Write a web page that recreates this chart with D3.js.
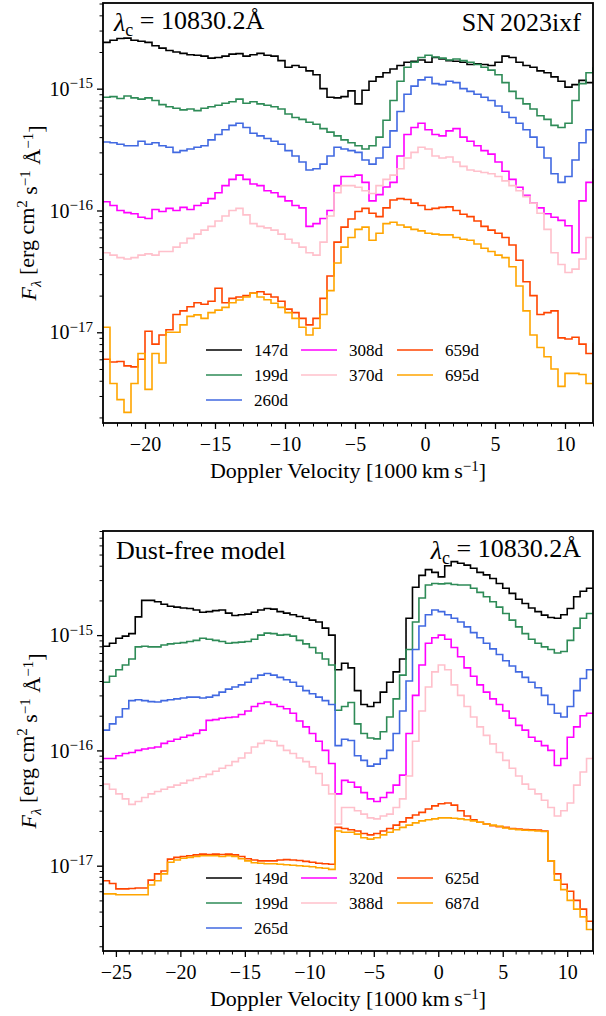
<!DOCTYPE html>
<html>
<head>
<meta charset="utf-8">
<script src="https://cdn.jsdelivr.net/npm/d3@7"></script>
<style>
  body { margin: 0; background: #fff; }
  text { font-family: "Liberation Serif", "DejaVu Serif", serif; fill: #000; }
</style>
</head>
<body>
<svg id="chart" width="606" height="1016"></svg>
<script>
// velocity bins, 1000 km/s (left edge of each bin)
let obsVel = [-23,-22.5,-22,-21.5,-21,-20.5,-20,-19.5,-19,-18.5,-18,-17.5,-17,-16.5,-16,-15.5,-15,-14.5,-14,-13.5,
  -13,-12.5,-12,-11.5,-11,-10.5,-10,-9.5,-9,-8.5,-8,-7.5,-7,-6.5,-6,-5.5,-5,-4.5,-4,-3.5,
  -3,-2.5,-2,-1.5,-1,-0.5,0,0.5,1,1.5,2,2.5,3,3.5,4,4.5,5,5.5,6,6.5,7,7.5,8,8.5,9,9.5,10,10.5,11,11.5,12];
let modVel = [-26,-25.5,-25,-24.5,-24,-23.5,-23,-22.5,-22,-21.5,-21,-20.5,-20,-19.5,-19,-18.5,-18,-17.5,-17,-16.5,
  -16,-15.5,-15,-14.5,-14,-13.5,-13,-12.5,-12,-11.5,-11,-10.5,-10,-9.5,-9,-8.5,-8,-7.5,-7,-6.5,
  -6,-5.5,-5,-4.5,-4,-3.5,-3,-2.5,-2,-1.5,-1,-0.5,0,0.5,1,1.5,2,2.5,3,3.5,4,4.5,5,5.5,6,6.5,7,7.5,8,8.5,9,9.5,10,10.5,11,11.5,12];

// fluxes in units of 1e-17 erg cm^2 s^-1 A^-1
let obs147 = [240,250,258,260,250,245,240,225,215,206,200,195,190,188,185,178,180,185,192,194,
  185,190,195,188,185,170,150,155,150,140,130,100,85,84,86,96,75,97,115,125,
  135,145,155,165,168,172,165,180,175,170,168,165,158,160,158,155,165,185,180,165,155,150,140,135,125,115,103,108,117,112,111];
let obs199 = [85,86,83,87,84,82,84,80,74,71,69,67,68,66,69,71,73,76,78,82,
  76,78,75,73,71,68,62,58,56,53,51,47,44,41,38,36,34,32,34,40,
  55,80,115,150,165,180,188,182,178,172,175,170,165,158,150,142,130,112,95,83,75,68,60,56,50,48,52,80,110,135,150];
let obs260 = [36.5,36,35,34,34,37,35,36,34,33,30,31,32,33,34,38,42,46,50,52,
  48,43,41,39,37,35,31,28,25,21.5,22,24,28,33,32,31,30,26,24,27,
  33,45,65,90,105,118,124,110,108,115,112,100,95,90,85,80,72,64,58,52,46,40,33,27,20,17,19,26,36,46,55];
let obs308 = [11.8,11,10,9.6,9.4,8.8,8.6,10.2,9.8,10.4,10,10.6,10.2,11,11.5,12.5,14,16,18,19.5,
  18,16.5,16,14.5,14,13,12,11,10.5,7.4,7.8,8.6,10,16,19,19,19.5,17,12,13.5,
  15.6,17,28,42,48,52,46,42,41,45,47,40,37,34,31,29,25,21,18,15.5,13.3,11.5,10.5,9.4,8.8,8.3,7.5,4.5,12,17,22];
let obs370 = [4.5,4.3,4.1,4.0,4.1,4.3,4.4,4.3,4.6,4.6,5.0,5.4,5.9,6.4,6.9,7.4,8.2,9,10,10.4,
  9.2,7.8,7.4,7.2,6.9,6.4,5.8,5.4,5.0,4.5,4.3,5.5,9,14,16,16,15.5,14.5,13.8,16,
  18,19.5,22,27,30,33,32,28,27,27.5,25,23,21.5,21,20.5,20,19,17.5,16,14.5,13,11.5,9.5,7,4.5,3.6,3.1,3.3,4.0,6,7.8];
let obs659 = [0.6,0.57,0.575,0.53,0.52,0.6,1.02,0.8,0.95,1.05,1.4,1.5,1.62,1.75,1.7,1.8,2.3,1.75,1.9,1.95,
  2.0,2.1,2.15,2.05,1.95,1.8,1.55,1.45,1.3,1.15,1.3,1.9,2.9,5.5,7.3,8.5,9.8,10.4,9.5,8.9,
  10.5,12.2,12.5,12.3,11.5,11,10.2,10.4,10.6,10.7,10,9.3,8.9,8.2,7.4,6.9,6.5,6.0,5.2,3.9,2.6,2.0,1.4,1.45,1.5,0.9,0.88,0.91,0.8,0.67,0.82];
let obs695 = [1.1,0.38,0.28,0.22,0.38,0.67,0.34,0.67,0.56,1.0,1.0,1.15,1.35,1.39,1.3,1.45,1.52,1.6,1.75,1.84,
  1.95,2.09,1.95,1.85,1.73,1.6,1.45,1.3,1.1,0.95,1.08,1.4,2.2,3.7,5.0,6.0,7.0,7.3,5.7,6.5,
  7.8,8.0,7.6,7.3,7.0,6.8,6.5,6.4,6.3,6.3,6.0,5.8,5.7,5.3,4.9,4.6,4.3,4.1,3.45,2.4,1.5,0.95,0.75,0.63,0.5,0.36,0.46,0.46,0.45,0.38,0.34];

let mod149 = [80,85,94,98,103,144,200,200,195,185,178,175,172,170,165,158,160,163,165,155,
  148,150,152,158,165,170,168,160,155,150,145,140,135,130,115,100,50,57,52,33,
  25,24,26,32,39,48,62,140,260,330,370,350,320,400,434,420,405,380,350,333,310,280,255,230,205,188,172,160,149,142,140,150,170,215,240,255,255];
let mod199 = [39,44,50,55,62,79,80,79,79,82,84,85,86,88,90,94,92,90,88,85,
  86,87,88,92,100,104,103,100,101,98,90,84,78,70,62,55,22.3,24,26,17,
  14,12.8,12.6,14.5,19.5,28,45,75,130,210,272,280,278,281,275,272,272,255,235,215,195,175,154,135,118,103,92,85,79,75,70,72,90,115,140,154,154];
let mod265 = [15,17,19.5,23,27,27.5,27,26.5,26.3,27,27.5,28,28.5,29,29,28.5,29,30,32,34,
  35.5,37,39,42,45,46.5,45,43,41,39,36,33,31,29,27,25,11,12.5,12.2,9,
  8.2,7.3,7.6,8.5,10,14,22,40,75,120,150,165,160,150,140,130,118,105,95,85,76,68,60,54,48,43,39,35,30,25,21,19.5,24,33,42,50,51];
let mod320 = [8.5,8.5,9,9.4,9.6,10,10.3,10.5,10.7,11.5,12,12.5,13,13.5,14,15,18.2,18.5,19,19.3,
  19.5,20.5,22,24,25.5,26.3,25,24,23,21,18,16,14,12,10,7.7,4.2,5.5,5.3,4.8,
  4.3,3.8,3.6,3.9,4.3,5,6.1,14,30,55,85,95,100,92,78,65,52,44,37,32,28,25,22,19,16.5,15,13,12,11,10,7.4,8.5,13,16,20,21,21];
let mod388 = [5.1,4.6,4.2,3.8,3.4,3.6,3.9,4.2,4.4,4.6,4.8,5.0,5.2,5.5,5.7,5.9,6.2,6.6,7.0,7.4,
  8.0,8.6,9.5,10.7,11.5,12.2,12.0,11.0,10,9.4,8.6,8.0,7.2,6.3,5.0,4.2,2.3,3.2,3.2,3.0,
  2.8,2.6,2.55,2.7,2.8,3.2,3.8,6,12,22,35.5,48,55,50,37,30,24,19.5,16,13.5,11.4,9.6,8.2,7,6,5.1,4.6,4.2,3.7,3.2,2.7,3.0,3.5,5.0,6.5,8.5,9];
let mod625 = [0.74,0.70,0.63,0.63,0.635,0.64,0.64,0.75,0.85,0.9,1.14,1.18,1.2,1.22,1.24,1.26,1.25,1.26,1.25,1.26,
  1.24,1.2,1.15,1.12,1.10,1.1,1.1,1.12,1.13,1.12,1.11,1.09,1.07,1.05,1.04,1.03,2.15,2.1,2.05,2.0,
  1.9,1.85,1.9,2.0,2.1,2.25,2.4,2.6,2.75,2.9,3.1,3.3,3.45,3.5,3.35,3.0,2.7,2.5,2.38,2.3,2.22,2.18,2.15,2.1,2.08,2.06,2.05,2.04,2.0,1.1,0.85,0.69,0.6,0.5,0.42,0.33,0.31];
let mod687 = [0.57,0.57,0.56,0.56,0.56,0.56,0.56,0.68,0.74,0.85,1.07,1.12,1.16,1.18,1.2,1.22,1.22,1.22,1.2,1.22,
  1.2,1.15,1.1,1.06,1.05,1.04,1.04,1.03,1.02,1.01,1.0,0.99,0.98,0.96,0.95,0.93,2.0,1.95,1.95,1.88,
  1.75,1.7,1.75,1.85,1.95,2.05,2.15,2.25,2.35,2.45,2.5,2.55,2.6,2.6,2.58,2.55,2.5,2.45,2.38,2.3,2.25,2.2,2.12,2.08,2.05,2.03,2.02,2.0,1.98,1.1,0.75,0.62,0.5,0.42,0.36,0.28,0.22];

let obsLabels = ["147d", "199d", "260d", "308d", "370d", "659d", "695d"];
let modLabels = ["149d", "199d", "265d", "320d", "388d", "625d", "687d"];
let lineColors = ["black", "#2e8b57", "#4169e1", "#ff00ff", "#ffc0cb", "#ff4500", "#ffa500"];

let xMajorTop = [-20, -15, -10, -5, 0, 5, 10];
let xMajorBot = [-25, -20, -15, -10, -5, 0, 5, 10];
let yDecades = [-15, -16, -17];

let margin = {left: 103, right: 13};
let plotW = 606 - margin.left - margin.right;
let plotH = 420;
let serif = '"Liberation Serif", "DejaVu Serif", serif';

let svg = d3.select("#chart");
let minus = s => String(s).replace("-", "\u2212");

function render_panel(cfg) {
  let g = svg.append("g").attr("transform", `translate(${margin.left}, ${cfg.top})`);

  let x = d3.scaleLinear().domain(cfg.xDomain).range([0, plotW]);
  let y = d3.scaleLog().domain(cfg.yDomain).range([plotH, 0]);

  let clipId = "clip-" + cfg.id;
  g.append("clipPath").attr("id", clipId)
    .append("rect").attr("width", plotW).attr("height", plotH);

  let line = d3.line()
    .x(d => x(d[0]))
    .y(d => y(d[1] * 1e-17))
    .curve(d3.curveStepAfter);

  let lines = g.append("g").attr("clip-path", `url(#${clipId})`);
  cfg.series.forEach((s, i) => {
    lines.append("path")
      .datum(cfg.vel.map((v, j) => [v, s[j]]))
      .attr("d", line)
      .attr("fill", "none")
      .attr("stroke", lineColors[i])
      .attr("stroke-width", 1.6);
  });

  // x axis
  let minorX = d3.range(Math.ceil(cfg.xDomain[0]), cfg.xDomain[1] + 0.01, 1)
    .filter(v => v % 5 != 0);
  g.append("g").attr("transform", `translate(0, ${plotH})`)
    .call(d3.axisBottom(x).tickValues(minorX).tickSize(3.5).tickFormat(""))
    .call(a => a.select(".domain").remove())
    .call(a => a.selectAll("line").attr("stroke-width", 1));
  let xa = g.append("g").attr("transform", `translate(0, ${plotH})`)
    .call(d3.axisBottom(x).tickValues(cfg.xMajor).tickSize(6).tickPadding(4).tickFormat(d => minus(d)))
    .attr("font-family", serif);
  xa.select(".domain").remove();
  xa.selectAll("line").attr("stroke-width", 1.3);
  xa.selectAll("text").style("font-size", "20px").attr("dy", "0.92em");

  // y axis, minor ticks at 2..9 of every decade
  let minorY = [];
  for (let e = -19; e <= -14; e++) {
    for (let m = 2; m <= 9; m++) {
      let v = m * Math.pow(10, e);
      if (v >= cfg.yDomain[0] && v <= cfg.yDomain[1]) minorY.push(v);
    }
  }
  g.append("g")
    .call(d3.axisLeft(y).tickValues(minorY).tickSize(3.5).tickFormat(""))
    .call(a => a.select(".domain").remove())
    .call(a => a.selectAll("line").attr("stroke-width", 1));
  let ya = g.append("g")
    .call(d3.axisLeft(y).tickValues(yDecades.map(e => Math.pow(10, e))).tickSize(6).tickFormat(""))
    .attr("font-family", serif);
  ya.select(".domain").remove();
  ya.selectAll("line").attr("stroke-width", 1.3);
  ya.selectAll(".tick").each(function(d) {
    let t = d3.select(this).append("text")
      .attr("x", -10).attr("dy", "0.33em")
      .attr("text-anchor", "end").style("font-size", "20px");
    t.append("tspan").text("10");
    t.append("tspan").attr("dy", "-0.5em").style("font-size", "15px")
      .text(minus(Math.round(Math.log10(d))));
  });

  // frame
  g.append("rect").attr("width", plotW).attr("height", plotH)
    .attr("fill", "none").attr("stroke", "black").attr("stroke-width", 1.8);

  // axis labels
  g.append("text")
    .attr("x", plotW / 2).attr("y", plotH + 55)
    .attr("text-anchor", "middle").style("font-size", "22px")
    .call(t => {
      t.append("tspan").text("Doppler Velocity [1000\u2009km\u2009s");
      t.append("tspan").attr("dy", "-0.5em").style("font-size", "15px").text("\u22121");
      t.append("tspan").attr("dy", "0.34em").text("]");
    });

  g.append("text")
    .attr("transform", `translate(${-67}, ${plotH / 2}) rotate(-90)`)
    .attr("text-anchor", "middle").style("font-size", "22px")
    .call(t => {
      t.append("tspan").style("font-style", "italic").text("F");
      t.append("tspan").attr("dy", "0.3em").style("font-size", "15px").style("font-style", "italic").text("\u03bb");
      t.append("tspan").attr("dy", "-0.3em").text(" [erg cm");
      t.append("tspan").attr("dy", "-0.45em").style("font-size", "15px").text("2");
      t.append("tspan").attr("dy", "0.45em").text(" s");
      t.append("tspan").attr("dy", "-0.45em").style("font-size", "15px").text("\u22121");
      t.append("tspan").attr("dy", "0.45em").text(" \u00c5");
      t.append("tspan").attr("dy", "-0.45em").style("font-size", "15px").text("\u22121");
      t.append("tspan").attr("dy", "0.45em").text("]");
    });

  // annotations
  let lam = g.append("text")
    .attr("x", cfg.lamRight ? plotW - 12 : 11).attr("y", 28)
    .attr("text-anchor", cfg.lamRight ? "end" : "start")
    .style("font-size", "26px");
  lam.append("tspan").style("font-style", "italic").text("\u03bb");
  lam.append("tspan").attr("dy", "0.3em").style("font-size", "18px").text("c");
  lam.append("tspan").attr("dy", "-0.3em").text(" = 10830.2\u00c5");

  g.append("text")
    .attr("x", cfg.lamRight ? 13 : plotW - 12).attr("y", 28)
    .attr("text-anchor", cfg.lamRight ? "start" : "end")
    .style("font-size", "26px")
    .text(cfg.note);

  // legend, three columns filled top-down
  let colX = [103, 198, 294];
  let rowY = [plotH - 73, plotH - 48, plotH - 23];
  let legend = g.append("g").attr("class", "legend");
  cfg.labels.forEach((lab, i) => {
    let col = i < 3 ? 0 : (i < 5 ? 1 : 2);
    let row = i < 3 ? i : (i < 5 ? i - 3 : i - 5);
    let item = legend.append("g")
      .attr("transform", `translate(${colX[col]}, ${rowY[row]})`);
    item.append("line").attr("x1", 0).attr("x2", 36)
      .attr("stroke", lineColors[i]).attr("stroke-width", 1.6);
    item.append("text").attr("x", 48).attr("dy", "0.35em")
      .style("font-size", "17px").text(lab);
  });
}

render_panel({
  id: "obs", top: 3, vel: obsVel, xDomain: [-23, 12], yDomain: [1.8e-18, 5.05e-15],
  xMajor: xMajorTop, labels: obsLabels, note: "SN\u20092023ixf", lamRight: false,
  series: [obs147, obs199, obs260, obs308, obs370, obs659, obs695]
});

render_panel({
  id: "mod", top: 531, vel: modVel, xDomain: [-26, 12], yDomain: [1.82e-18, 8.0e-15],
  xMajor: xMajorBot, labels: modLabels, note: "Dust-free model", lamRight: true,
  series: [mod149, mod199, mod265, mod320, mod388, mod625, mod687]
});
</script>
</body>
</html>
